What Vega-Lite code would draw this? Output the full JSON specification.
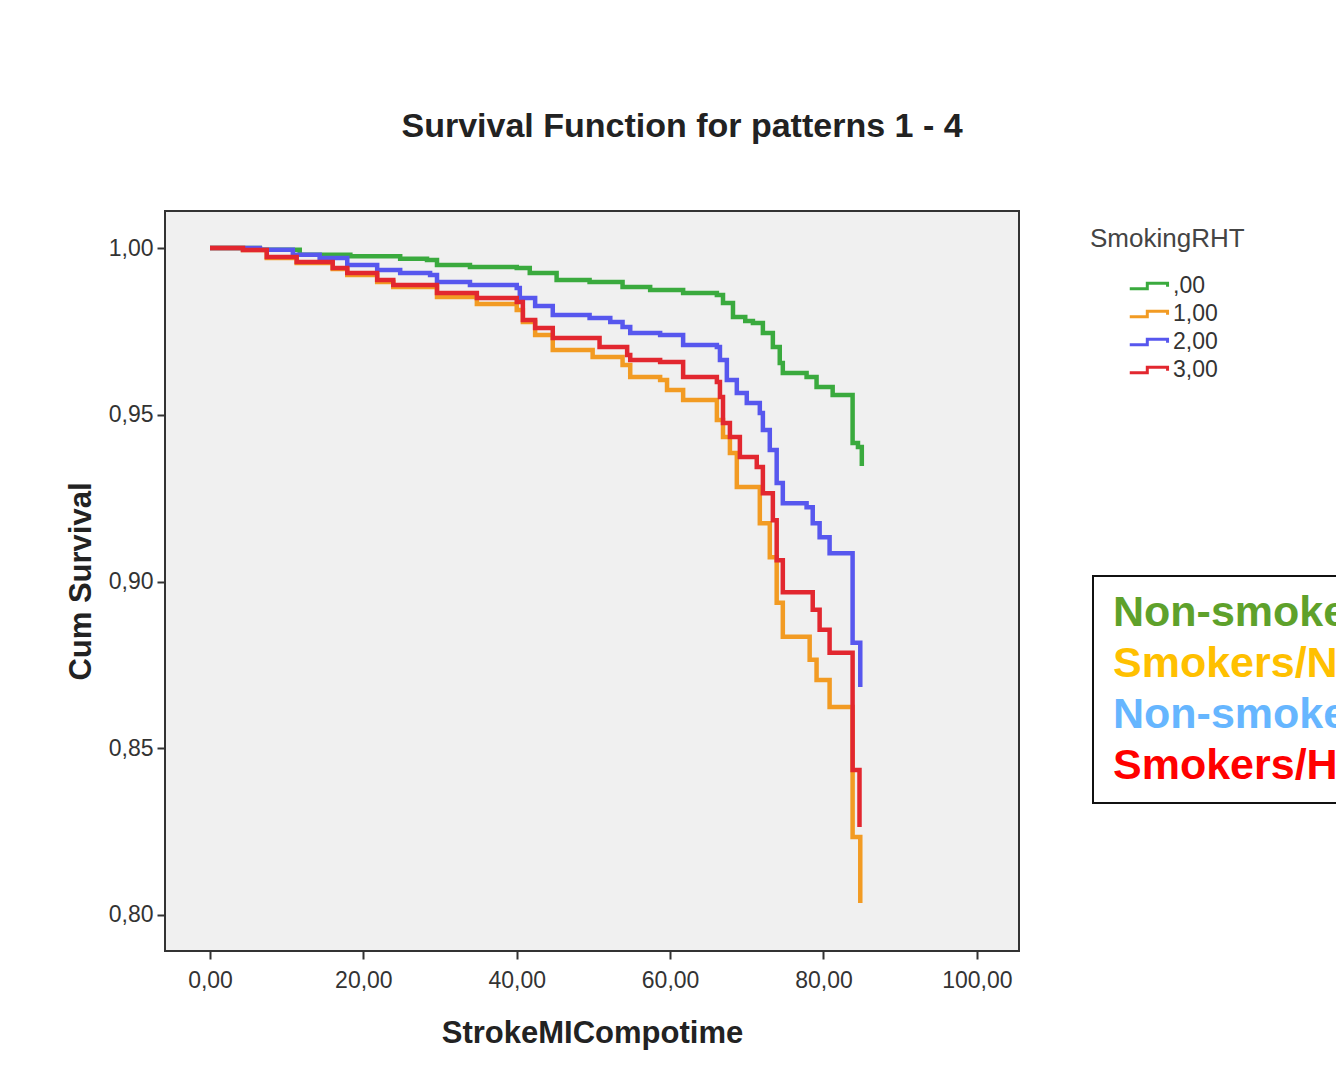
{
  "$schema": "https://vega.github.io/schema/vega-lite/v6.json",
  "width": 854,
  "height": 740,
  "autosize": {"type": "none"},
  "padding": {"left": 165, "top": 211, "right": 317, "bottom": 126},
  "background": "white",
  "view": {"fill": "#f0f0f0", "stroke": "#333", "strokeWidth": 2},
  "title": {
    "text": "Survival Function for patterns 1 - 4",
    "font": "Liberation Sans",
    "fontSize": 34,
    "fontWeight": "bold",
    "color": "#222",
    "anchor": "middle",
    "dx": 90,
    "offset": 67
  },
  "config": {
    "view": {"fill": "#f0f0f0", "stroke": "#333", "strokeWidth": 2},
    "axis": {
      "grid": false,
      "domain": false,
      "tickColor": "#333",
      "tickWidth": 2,
      "tickSize": 8,
      "labelFont": "Liberation Sans",
      "labelFontSize": 23,
      "labelColor": "#333",
      "titleFont": "Liberation Sans",
      "titleFontSize": 31,
      "titleFontWeight": "bold",
      "titleColor": "#222"
    }
  },
  "datasets": {
    "km": [
      {"t": 0, "s": 1.0, "g": ",00"},
      {"t": 6.5, "s": 0.9995, "g": ",00"},
      {"t": 11.7, "s": 0.998, "g": ",00"},
      {"t": 18.3, "s": 0.9975, "g": ",00"},
      {"t": 24.8, "s": 0.9968, "g": ",00"},
      {"t": 28.3, "s": 0.9964, "g": ",00"},
      {"t": 29.6, "s": 0.9949, "g": ",00"},
      {"t": 33.9, "s": 0.9943, "g": ",00"},
      {"t": 40.0, "s": 0.994, "g": ",00"},
      {"t": 41.7, "s": 0.9925, "g": ",00"},
      {"t": 45.2, "s": 0.9904, "g": ",00"},
      {"t": 49.5, "s": 0.9898, "g": ",00"},
      {"t": 53.8, "s": 0.9883, "g": ",00"},
      {"t": 57.4, "s": 0.9874, "g": ",00"},
      {"t": 61.7, "s": 0.9865, "g": ",00"},
      {"t": 66.1, "s": 0.9859, "g": ",00"},
      {"t": 66.9, "s": 0.9835, "g": ",00"},
      {"t": 68.2, "s": 0.9793, "g": ",00"},
      {"t": 69.8, "s": 0.9781, "g": ",00"},
      {"t": 70.8, "s": 0.9775, "g": ",00"},
      {"t": 72.1, "s": 0.9745, "g": ",00"},
      {"t": 73.4, "s": 0.9703, "g": ",00"},
      {"t": 74.3, "s": 0.9655, "g": ",00"},
      {"t": 74.7, "s": 0.9625, "g": ",00"},
      {"t": 77.8, "s": 0.9613, "g": ",00"},
      {"t": 79.1, "s": 0.9583, "g": ",00"},
      {"t": 81.2, "s": 0.9559, "g": ",00"},
      {"t": 83.8, "s": 0.9415, "g": ",00"},
      {"t": 84.5, "s": 0.9403, "g": ",00"},
      {"t": 85.0, "s": 0.9346, "g": ",00"},

      {"t": 0, "s": 1.0, "g": "1,00"},
      {"t": 4.3, "s": 0.9994, "g": "1,00"},
      {"t": 7.4, "s": 0.997, "g": "1,00"},
      {"t": 11.3, "s": 0.9955, "g": "1,00"},
      {"t": 16.0, "s": 0.9937, "g": "1,00"},
      {"t": 17.9, "s": 0.9919, "g": "1,00"},
      {"t": 21.8, "s": 0.9898, "g": "1,00"},
      {"t": 23.9, "s": 0.9883, "g": "1,00"},
      {"t": 29.6, "s": 0.9853, "g": "1,00"},
      {"t": 34.8, "s": 0.9832, "g": "1,00"},
      {"t": 40.0, "s": 0.9814, "g": "1,00"},
      {"t": 40.8, "s": 0.9778, "g": "1,00"},
      {"t": 42.4, "s": 0.9739, "g": "1,00"},
      {"t": 44.7, "s": 0.9694, "g": "1,00"},
      {"t": 49.9, "s": 0.9673, "g": "1,00"},
      {"t": 53.8, "s": 0.9649, "g": "1,00"},
      {"t": 54.8, "s": 0.9613, "g": "1,00"},
      {"t": 58.7, "s": 0.9604, "g": "1,00"},
      {"t": 59.6, "s": 0.9574, "g": "1,00"},
      {"t": 61.7, "s": 0.9544, "g": "1,00"},
      {"t": 66.1, "s": 0.9484, "g": "1,00"},
      {"t": 66.9, "s": 0.9433, "g": "1,00"},
      {"t": 67.8, "s": 0.9385, "g": "1,00"},
      {"t": 68.7, "s": 0.9283, "g": "1,00"},
      {"t": 71.7, "s": 0.9175, "g": "1,00"},
      {"t": 73.0, "s": 0.9073, "g": "1,00"},
      {"t": 73.9, "s": 0.8936, "g": "1,00"},
      {"t": 74.7, "s": 0.8834, "g": "1,00"},
      {"t": 78.2, "s": 0.8765, "g": "1,00"},
      {"t": 79.1, "s": 0.8705, "g": "1,00"},
      {"t": 80.8, "s": 0.8624, "g": "1,00"},
      {"t": 83.8, "s": 0.8234, "g": "1,00"},
      {"t": 84.8, "s": 0.8036, "g": "1,00"},

      {"t": 0, "s": 1.0, "g": "2,00"},
      {"t": 6.5, "s": 0.9995, "g": "2,00"},
      {"t": 10.8, "s": 0.998, "g": "2,00"},
      {"t": 14.3, "s": 0.997, "g": "2,00"},
      {"t": 17.9, "s": 0.9949, "g": "2,00"},
      {"t": 21.8, "s": 0.9934, "g": "2,00"},
      {"t": 24.8, "s": 0.9925, "g": "2,00"},
      {"t": 28.7, "s": 0.9919, "g": "2,00"},
      {"t": 29.6, "s": 0.9898, "g": "2,00"},
      {"t": 33.9, "s": 0.9889, "g": "2,00"},
      {"t": 40.0, "s": 0.988, "g": "2,00"},
      {"t": 40.4, "s": 0.985, "g": "2,00"},
      {"t": 42.4, "s": 0.9826, "g": "2,00"},
      {"t": 44.7, "s": 0.9799, "g": "2,00"},
      {"t": 49.5, "s": 0.979, "g": "2,00"},
      {"t": 52.2, "s": 0.9778, "g": "2,00"},
      {"t": 53.8, "s": 0.9763, "g": "2,00"},
      {"t": 54.8, "s": 0.9745, "g": "2,00"},
      {"t": 58.7, "s": 0.9739, "g": "2,00"},
      {"t": 61.7, "s": 0.9709, "g": "2,00"},
      {"t": 66.1, "s": 0.9703, "g": "2,00"},
      {"t": 66.5, "s": 0.9664, "g": "2,00"},
      {"t": 67.4, "s": 0.9604, "g": "2,00"},
      {"t": 68.7, "s": 0.9565, "g": "2,00"},
      {"t": 70.0, "s": 0.9535, "g": "2,00"},
      {"t": 71.7, "s": 0.9505, "g": "2,00"},
      {"t": 72.1, "s": 0.9454, "g": "2,00"},
      {"t": 73.0, "s": 0.9394, "g": "2,00"},
      {"t": 73.9, "s": 0.9295, "g": "2,00"},
      {"t": 74.7, "s": 0.9235, "g": "2,00"},
      {"t": 77.8, "s": 0.9223, "g": "2,00"},
      {"t": 78.6, "s": 0.9175, "g": "2,00"},
      {"t": 79.5, "s": 0.9133, "g": "2,00"},
      {"t": 80.8, "s": 0.9085, "g": "2,00"},
      {"t": 83.8, "s": 0.8816, "g": "2,00"},
      {"t": 84.8, "s": 0.8684, "g": "2,00"},

      {"t": 0, "s": 1.0, "g": "3,00"},
      {"t": 4.3, "s": 0.9994, "g": "3,00"},
      {"t": 7.4, "s": 0.9973, "g": "3,00"},
      {"t": 11.3, "s": 0.9958, "g": "3,00"},
      {"t": 16.0, "s": 0.994, "g": "3,00"},
      {"t": 17.9, "s": 0.9925, "g": "3,00"},
      {"t": 21.8, "s": 0.9904, "g": "3,00"},
      {"t": 23.9, "s": 0.9889, "g": "3,00"},
      {"t": 29.6, "s": 0.9865, "g": "3,00"},
      {"t": 34.8, "s": 0.985, "g": "3,00"},
      {"t": 40.0, "s": 0.9838, "g": "3,00"},
      {"t": 40.8, "s": 0.9784, "g": "3,00"},
      {"t": 42.4, "s": 0.976, "g": "3,00"},
      {"t": 44.7, "s": 0.973, "g": "3,00"},
      {"t": 50.8, "s": 0.9703, "g": "3,00"},
      {"t": 54.4, "s": 0.9679, "g": "3,00"},
      {"t": 54.8, "s": 0.9664, "g": "3,00"},
      {"t": 58.7, "s": 0.9658, "g": "3,00"},
      {"t": 61.7, "s": 0.9613, "g": "3,00"},
      {"t": 66.1, "s": 0.9598, "g": "3,00"},
      {"t": 66.5, "s": 0.9553, "g": "3,00"},
      {"t": 66.9, "s": 0.9475, "g": "3,00"},
      {"t": 67.8, "s": 0.9433, "g": "3,00"},
      {"t": 69.1, "s": 0.9373, "g": "3,00"},
      {"t": 71.3, "s": 0.9343, "g": "3,00"},
      {"t": 72.1, "s": 0.9265, "g": "3,00"},
      {"t": 73.4, "s": 0.9184, "g": "3,00"},
      {"t": 73.9, "s": 0.9064, "g": "3,00"},
      {"t": 74.7, "s": 0.8968, "g": "3,00"},
      {"t": 78.6, "s": 0.8915, "g": "3,00"},
      {"t": 79.5, "s": 0.8855, "g": "3,00"},
      {"t": 80.8, "s": 0.8786, "g": "3,00"},
      {"t": 83.8, "s": 0.8435, "g": "3,00"},
      {"t": 84.7, "s": 0.8264, "g": "3,00"}
    ],
    "groups": [
      {"label": "Non-smokers/Normotensives"},
      {"label": "Smokers/Normotensives"},
      {"label": "Non-smokers/Hypertensives"},
      {"label": "Smokers/Hypertensives"}
    ]
  },
  "layer": [
    {
      "data": {"name": "km"},
      "mark": {"type": "line", "interpolate": "step-after", "strokeWidth": 4.5},
      "encoding": {
        "x": {
          "field": "t",
          "type": "quantitative",
          "scale": {"domain": [-5.87, 105.5], "nice": false, "zero": false},
          "axis": {
            "values": [0, 20, 40, 60, 80, 100],
            "labelExpr": "replace(format(datum.value, '.2f'), '.', ',')",
            "labelPadding": 10,
            "titlePadding": 26
          },
          "title": "StrokeMICompotime"
        },
        "y": {
          "field": "s",
          "type": "quantitative",
          "scale": {"domain": [0.7892, 1.0111], "nice": false, "zero": false},
          "axis": {
            "values": [0.8, 0.85, 0.9, 0.95, 1.0],
            "labelExpr": "replace(format(datum.value, '.2f'), '.', ',')",
            "labelPadding": 4,
            "titlePadding": 11
          },
          "title": "Cum Survival"
        },
        "color": {
          "field": "g",
          "type": "nominal",
          "scale": {
            "domain": [",00", "1,00", "2,00", "3,00"],
            "range": ["#3aaa3e", "#f29b23", "#5757ee", "#e2272f"]
          },
          "legend": {
            "title": "SmokingRHT",
            "orient": "right",
            "offset": 56,
            "padding": 15,
            "titleFont": "Liberation Sans",
            "titleFontSize": 26,
            "titleFontWeight": "normal",
            "titleColor": "#444",
            "titlePadding": 19,
            "labelFont": "Liberation Sans",
            "labelFontSize": 23,
            "labelColor": "#333",
            "labelOffset": 8,
            "rowPadding": 1,
            "symbolOffset": 45,
            "symbolType": "M -1.5 0.2 L -0.2 0.2 L -0.2 -0.2 L 1.3 -0.2 L 1.3 0.05",
            "symbolSize": 729,
            "symbolStrokeWidth": 3,
            "symbolFillColor": "transparent"
          }
        }
      }
    },
    {
      "data": {"name": "groups"},
      "mark": {"type": "point", "opacity": 0, "filled": true},
      "encoding": {
        "fill": {
          "field": "label",
          "type": "nominal",
          "scale": {
            "domain": ["Non-smokers/Normotensives", "Smokers/Normotensives", "Non-smokers/Hypertensives", "Smokers/Hypertensives"],
            "range": ["#5ea12b", "#ffc000", "#66b6ff", "#ff0000"]
          },
          "legend": {
            "title": null,
            "orient": "none",
            "legendX": 928,
            "legendY": 365,
            "strokeColor": "#111",
            "padding": 15,
            "symbolSize": 1,
            "symbolOpacity": 0,
            "labelOffset": -38,
            "labelFont": "Liberation Sans",
            "labelFontSize": 43,
            "labelFontWeight": "bold",
            "labelLimit": 0,
            "rowPadding": 7,
            "encode": {
              "labels": {"update": {"fill": {"scale": "fill", "field": "value"}}},
              "legend": {"update": {"strokeWidth": {"value": 2}}}
            }
          }
        }
      }
    }
  ]
}
